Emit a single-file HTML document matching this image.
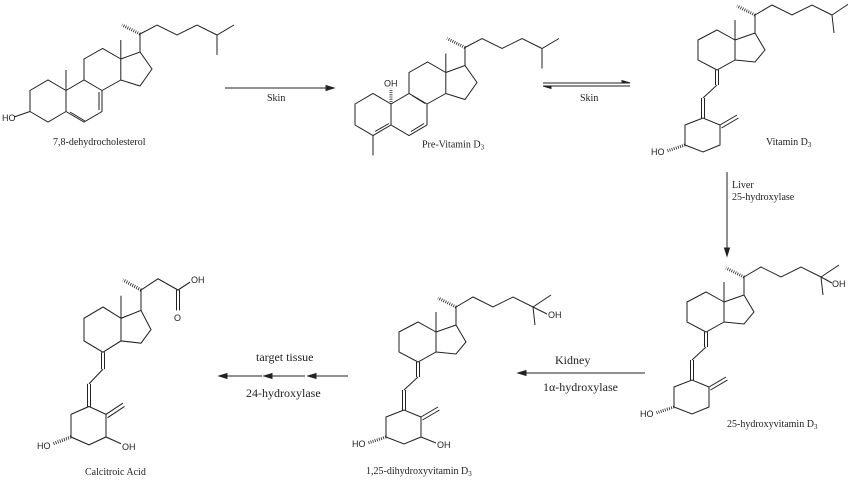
<!DOCTYPE html>
<html><head><meta charset="utf-8"><style>
html,body{margin:0;padding:0;background:#fff;}
svg{display:block;}
text{font-family:"Liberation Serif",serif;fill:#222;}
.s{font-family:"Liberation Sans",sans-serif;font-size:9px;}
</style></head><body>
<svg width="848" height="483" viewBox="0 0 848 483" xmlns="http://www.w3.org/2000/svg">
<defs>
<g id="vd" fill="none" stroke="#222" stroke-width="1">
  <polygon points="-19,10 0,0 18,10 18,30 0,40 -19,30"/>
  <polyline points="18,10 38,3 48,20 38,32 18,30"/>
  <line x1="18" y1="10" x2="18" y2="-10"/>
  <line x1="38" y1="3" x2="38" y2="-15"/>
  <line x1="38" y1="-15" x2="20" y2="-24" stroke-width="3" stroke-dasharray="0.8,1.4"/>
  <line x1="-1.5" y1="40" x2="-1.5" y2="55"/><line x1="1.5" y1="40" x2="1.5" y2="55"/>
  <line x1="0" y1="55" x2="-14" y2="68"/>
  <line x1="-15.5" y1="68" x2="-15.5" y2="88"/><line x1="-12.5" y1="68" x2="-12.5" y2="88"/>
  <polygon points="-14,88 -32,95 -32,115 -14,122 3,115 3,95"/>
  <line x1="3" y1="95" x2="20" y2="85"/><line x1="4.5" y1="98" x2="21.5" y2="88"/>
  <line x1="-32" y1="115" x2="-50" y2="121" stroke-width="3" stroke-dasharray="0.8,1.4"/>
</g>
<g id="chain" fill="none" stroke="#222" stroke-width="1">
  <polyline points="38,-15 55,-25 75,-15 95,-25 115,-15"/>
  <line x1="115" y1="-15" x2="133" y2="-27"/>
  <line x1="115" y1="-15" x2="117" y2="3"/>
</g>
<g id="ster" fill="none" stroke="#222" stroke-width="1">
  <polyline points="66,90.5 48,80 30,90.5 30,111.5 48,122 66,111.5"/>
  <polyline points="66,90.5 84,80 102,90.5 102,111.5 84,122 66,111.5 66,90.5"/>
  <polyline points="84,80 84,59 102.6,48.5 120.8,59 120.8,80 102,90.5"/>
  <polyline points="120.8,59 140,52 152,69 140,86 120.8,80"/>
  <line x1="120.8" y1="59" x2="120.8" y2="40"/>
  <line x1="140" y1="52" x2="140" y2="34"/>
  <line x1="140" y1="34" x2="122" y2="25" stroke-width="3" stroke-dasharray="0.8,1.4"/>
  <polyline points="140,34 157,25 177,35 197,25 217,35 234,25"/>
  <line x1="217" y1="35" x2="217" y2="55"/>
</g>
</defs>

<!-- 7,8-dehydrocholesterol -->
<g transform="translate(0,0)">
  <use href="#ster"/>
  <g fill="none" stroke="#222" stroke-width="1">
    <line x1="66" y1="90.5" x2="66" y2="70"/>
    <line x1="68" y1="115" x2="83" y2="124" transform="translate(2,-3)"/>
    <line x1="99" y1="92" x2="99" y2="110"/>
    <line x1="30" y1="111.5" x2="14" y2="117"/>
  </g>
  <text x="2" y="121" class="s">HO</text>
  <text x="53" y="145" font-size="10">7,8-dehydrocholesterol</text>
</g>

<!-- Pre-Vitamin D3 -->
<g transform="translate(325,13.5)">
  <use href="#ster"/>
  <g fill="none" stroke="#222" stroke-width="1">
    <line x1="48" y1="122" x2="48" y2="142"/>
    <line x1="50" y1="118" x2="64" y2="110"/>
    <line x1="87" y1="82" x2="100" y2="90"/>
    <line x1="86" y1="118" x2="99" y2="110"/>
    <line x1="66" y1="90.5" x2="66" y2="75" stroke-width="3" stroke-dasharray="0.8,1.4"/>
  </g>
  <text x="59" y="73" class="s">OH</text>
  <text x="97" y="134" font-size="10">Pre-Vitamin D<tspan font-size="7" dy="2">3</tspan></text>
</g>

<!-- Vitamin D3 -->
<g transform="translate(717,30)">
  <use href="#vd"/><use href="#chain"/>
  <text x="-66" y="125" class="s">HO</text>
</g>
<text x="766" y="145" font-size="10">Vitamin D<tspan font-size="7" dy="2">3</tspan></text>

<!-- 25-hydroxyvitamin D3 -->
<g transform="translate(706,292)">
  <use href="#vd"/><use href="#chain"/>
  <line x1="115" y1="-15" x2="126" y2="-9" stroke="#222"/>
  <text x="126" y="-5" class="s">OH</text>
  <text x="-66" y="125" class="s">HO</text>
</g>
<text x="727" y="427" font-size="10">25-hydroxyvitamin D<tspan font-size="7" dy="2">3</tspan></text>

<!-- 1,25-dihydroxyvitamin D3 -->
<g transform="translate(418,322)">
  <use href="#vd"/><use href="#chain"/>
  <line x1="115" y1="-15" x2="129" y2="-8" stroke="#222"/>
  <text x="130" y="-4" class="s">OH</text>
  <line x1="3" y1="115" x2="18" y2="121" stroke="#222"/>
  <text x="19" y="126" class="s">OH</text>
  <text x="-66" y="125" class="s">HO</text>
</g>
<text x="366" y="474" font-size="10">1,25-dihydroxyvitamin D<tspan font-size="7" dy="2">3</tspan></text>

<!-- Calcitroic acid -->
<g transform="translate(103,307) scale(1,1.13)">
  <use href="#vd"/>
  <g fill="none" stroke="#222" stroke-width="1">
    <polyline points="38,-15 55,-25 75,-15 87,-22"/>
    <line x1="73.5" y1="-15" x2="73.5" y2="3"/><line x1="76.5" y1="-15" x2="76.5" y2="3"/>
    <line x1="3" y1="115" x2="18" y2="121"/>
  </g>
</g>
<g transform="translate(103,307)">
  <text x="88" y="-24" class="s">OH</text>
  <text x="71" y="14" class="s">O</text>
  <text x="19" y="143" class="s">OH</text>
  <text x="-66" y="142" class="s">HO</text>
</g>
<text x="85" y="475" font-size="10">Calcitroic Acid</text>

<!-- arrows -->
<g stroke="#222" stroke-width="1" fill="#222">
  <line x1="225" y1="88" x2="330" y2="88"/>
  <polygon points="334,88 326,85.5 326,90.5"/>
  <line x1="543" y1="83" x2="630" y2="83"/>
  <polygon points="630,83 622,80.5 622,83"/>
  <line x1="543" y1="86" x2="630" y2="86"/>
  <polygon points="543,86 551,86 551,88.5"/>
  <line x1="727" y1="172" x2="727" y2="252"/>
  <polygon points="727,256 724.5,248 729.5,248"/>
  <line x1="522" y1="373" x2="645" y2="373"/>
  <polygon points="518,373 526,370.5 526,375.5"/>
  <line x1="222" y1="376" x2="262" y2="376"/>
  <polygon points="219,376 227,373.5 227,378.5"/>
  <line x1="267" y1="376" x2="305" y2="376"/>
  <polygon points="264,376 272,373.5 272,378.5"/>
  <line x1="312" y1="376" x2="348" y2="376"/>
  <polygon points="308,376 316,373.5 316,378.5"/>
</g>
<text x="267" y="101" font-size="10">Skin</text>
<text x="580" y="101" font-size="10">Skin</text>
<text x="732" y="188" font-size="10">Liver</text>
<text x="732" y="200" font-size="10">25-hydroxylase</text>
<text x="555" y="364" font-size="12">Kidney</text>
<text x="543" y="391" font-size="12">1α-hydroxylase</text>
<text x="256" y="361" font-size="12">target tissue</text>
<text x="246" y="397" font-size="12">24-hydroxylase</text>
</svg>
</body></html>
